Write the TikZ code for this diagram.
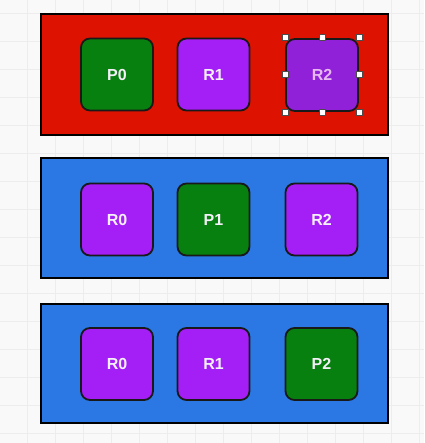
\documentclass[tikz,border=0pt]{standalone}
\usepackage{fontspec}
\setmainfont{Liberation Sans}
\definecolor{bgc}{HTML}{F9F9F9}
\definecolor{gridc}{HTML}{EDEDED}
\definecolor{redc}{HTML}{DE1200}
\definecolor{bluec}{HTML}{2B78E4}
\definecolor{greenc}{HTML}{08800F}
\definecolor{purplec}{HTML}{A41EF6}
\definecolor{selpurple}{HTML}{9021D8}
\definecolor{seltext}{HTML}{E8B8F2}
\definecolor{txtc}{HTML}{F4F0F8}
\tikzset{
  panel/.style={draw=black, line width=2.2pt, minimum width=347pt, minimum height=120pt, inner sep=0pt},
  cell/.style={draw=black!90, line width=1.8pt, rounded corners=9pt, minimum width=72pt, minimum height=72pt,
    inner sep=0pt, text=txtc, font=\fontsize{16pt}{18pt}\selectfont\bfseries},
  pcell/.style={cell, fill=greenc},
  rcell/.style={cell, fill=purplec},
  handle/.style={draw=black!70, fill=white, line width=0.6pt, minimum size=6pt, inner sep=0pt}
}
\begin{document}
\begin{tikzpicture}[x=1pt,y=-1pt]
\useasboundingbox (0,0) rectangle (424,443);
\fill[bgc] (0,0) rectangle (424,443);
\foreach \gx in {27,55,...,420} {\draw[gridc, line width=0.6pt] (\gx,0) -- (\gx,443);}
\foreach \gy in {13,41,...,440} {\draw[gridc, line width=0.6pt] (0,\gy) -- (424,\gy);}
% panels
\node[panel, fill=redc, minimum height=121pt] (A) at (214.5,74.5) {};
\node[panel, fill=bluec] (B) at (214.5,218) {};
\node[panel, fill=bluec, minimum height=119pt] (C) at (214.5,363.5) {};
% row 1
\node[pcell] (a0) at (117,74.5) {P0};
\node[rcell] (a1) at (213.5,74.5) {R1};
\node[cell, fill=selpurple, text=seltext] (a2) at (322,75) {R2};
% selection handles
\foreach \hx/\hy [count=\i] in {285/37,322/37,359/37,285/74.5,359/74.5,285/112,322/112,359/112}
  {\node[handle] (h\i) at (\hx,\hy) {};}
% row 2
\node[rcell] (b0) at (117,219.5) {R0};
\node[pcell] (b1) at (213.5,219.5) {P1};
\node[rcell] (b2) at (321.5,219.5) {R2};
% row 3
\node[rcell] (c0) at (117,364) {R0};
\node[rcell] (c1) at (213.5,364) {R1};
\node[pcell] (c2) at (321.5,364) {P2};
\end{tikzpicture}
\end{document}
